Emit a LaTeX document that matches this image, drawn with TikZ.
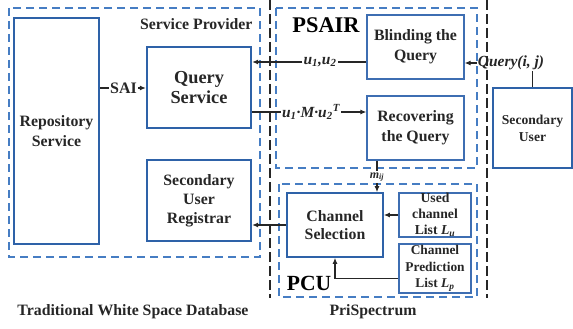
\documentclass[tikz,border=0pt]{standalone}
\usepackage{fontspec}
\setmainfont{Liberation Serif}
\usetikzlibrary{arrows.meta}
\definecolor{boxblue}{RGB}{46,98,168}
\definecolor{thinblue}{RGB}{62,110,178}
\definecolor{dashblue}{RGB}{70,125,195}
\definecolor{txt}{RGB}{38,38,38}

\begin{document}
\begin{tikzpicture}[x=1pt,y=-1pt,>={Latex[length=6pt,width=5pt]},
	every node/.style={text=txt},
	bigbox/.style={draw=boxblue,line width=2.2pt,inner sep=0pt,align=center,font=\fontsize{15.8}{20}\selectfont\bfseries},
	smallbox/.style={draw=thinblue,line width=1.2pt,inner sep=0pt,align=center,font=\fontsize{15.8}{20}\selectfont\bfseries},
	zone/.style={draw=dashblue,line width=1.3pt,dash pattern=on 8pt off 5pt},
	divider/.style={draw=black!85,line width=1.3pt,dash pattern=on 10pt off 4pt},
	link/.style={line width=1.2pt,draw=black!85},
	lbl/.style={font=\fontsize{15.5}{18}\selectfont\bfseries\itshape,inner sep=1pt},
	title/.style={font=\fontsize{15.8}{18}\selectfont\bfseries}]
	\useasboundingbox (0,0) rectangle (573,329);

	\draw[zone] (9,8) rectangle (260,257);
	\draw[zone] (276,8) rectangle (477,168);
	\draw[zone] (279,184) rectangle (477,297);
	\draw[divider] (270,0) -- (270,298);
	\draw[divider] (487,0) -- (487,298);

	\node[bigbox,minimum width=85pt,minimum height=226pt] (repo) at (56.5,131) {Repository\\Service};
	\node[bigbox,minimum width=104pt,minimum height=81pt,font=\fontsize{18.3}{20.7}\selectfont\bfseries] (qs) at (199,87.5) {Query\\Service};
	\node[bigbox,minimum width=104pt,minimum height=81pt,font=\fontsize{15.8}{19}\selectfont\bfseries] (sur) at (199,200.5) {Secondary\\User\\Registrar};
	\node[smallbox,minimum width=97pt,minimum height=64pt] (blind) at (415.5,47) {Blinding the\\Query};
	\node[smallbox,minimum width=97pt,minimum height=64pt] (recov) at (415.5,128) {Recovering\\the Query};
	\node[bigbox,minimum width=79pt,minimum height=80pt,font=\fontsize{13.6}{17}\selectfont\bfseries] (su) at (532.5,128) {Secondary\\User};
	\node[bigbox,line width=1.6pt,minimum width=96pt,minimum height=64pt,font=\fontsize{15.8}{18.3}\selectfont\bfseries] (chsel) at (335,225) {Channel\\Selection};
	\node[smallbox,minimum width=72pt,minimum height=44pt,font=\fontsize{13.7}{16}\selectfont\bfseries] (used) at (435,215) {Used\\channel\\List \textit{L}\textsubscript{\textit{u}}};
	\node[smallbox,minimum width=72pt,minimum height=49pt,font=\fontsize{13.4}{16.5}\selectfont\bfseries] (pred) at (435,268.5) {Channel\\Prediction\\List \textit{L}\textsubscript{\textit{p}}};

	\node[title,anchor=east] (sp) at (256,24) {Service Provider};
	\node[font=\fontsize{22.4}{24}\selectfont\bfseries,text=black] (psair) at (326,25) {PSAIR};
	\node[font=\fontsize{21.6}{24}\selectfont\bfseries,text=black] (pcu) at (309,283) {PCU};
	\node[title] (pris) at (373,312) {PriSpectrum};
	\node[title] (twsd) at (133,312) {Traditional White Space Database};

	\node[lbl,font=\fontsize{16}{18}\selectfont\bfseries] (sai) at (123.5,88) {SAI};
	\draw[link] (repo.east |- sai) -- (sai);
	\draw[link,->] (sai) -- (qs.west |- sai);

	\node[lbl] (u12) at (320,62) {u\textsubscript{1},u\textsubscript{2}};
	\draw[link] (blind.west |- u12) -- (u12);
	\draw[link,->] (u12) -- (qs.east |- u12);

	\node[lbl] (qij) at (511,63) {Query(i, j)};
	\draw[link] (su.north) -- (su.north |- qij.south);
	\draw[link,->] (qij) -- (blind.east |- qij);

	\node[lbl] (umu) at (311,112) {u\textsubscript{1}·M·u\textsubscript{2}\textsuperscript{T}};
	\draw[link] (qs.east |- umu) -- (umu);
	\draw[link,->] (umu) -- (recov.west |- umu);

	\node[lbl,font=\fontsize{12}{14}\selectfont\bfseries\itshape] (mij) at (377,177) {m\textsubscript{ij}};
	\draw[link] (recov.south -| mij) -- (mij);
	\draw[link,->] (mij) -- (chsel.north -| mij);

	\draw[link,->] (used.west) -- (chsel.east |- used.west);
	\draw[link,->] ([yshift=-10pt]pred.west) -| (chsel.south);
	\draw[link,->] (chsel.west) -- (sur.east |- chsel.west);
\end{tikzpicture}
\end{document}
